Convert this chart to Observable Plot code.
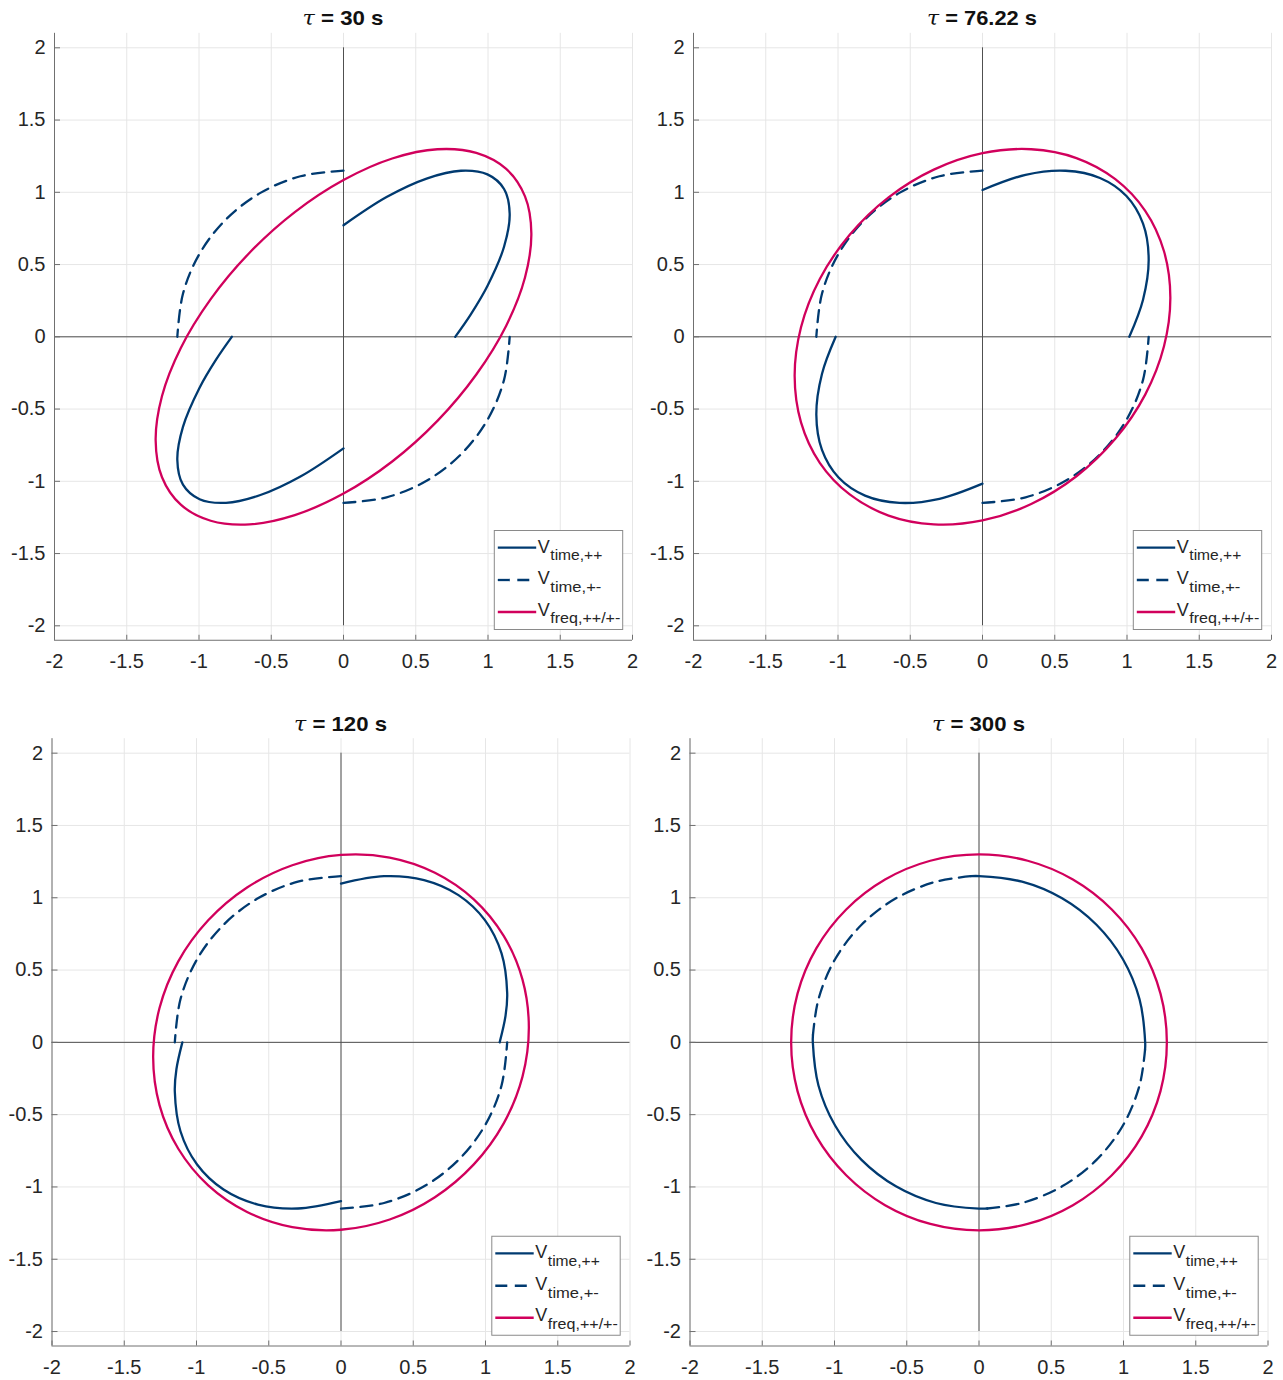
<!DOCTYPE html>
<html>
<head>
<meta charset="utf-8">
<script src="https://cdn.jsdelivr.net/npm/d3@7"></script>
<script src="https://cdn.jsdelivr.net/npm/@observablehq/plot@0.6"></script>
<style>
  body { margin: 0; background: #fff; }
  #wrap { position: relative; width: 1283px; height: 1380px; overflow: hidden; background: #fff; font-family: "Liberation Sans", Arial, sans-serif; }
  #wrap svg { position: absolute; }
</style>
</head>
<body>
<div id="wrap"></div>
<script>
// ---------- tick values & labels ----------
const xTicks = [-2, -1.5, -1, -0.5, 0, 0.5, 1, 1.5, 2];
const yTicks = [-2, -1.5, -1, -0.5, 0, 0.5, 1, 1.5, 2];
const tauValues = ["30", "76.22", "120", "300"];
const legendSubs = ["time,++", "time,+-", "freq,++/+-"];

// ---------- panel 1 : tau = 30 s ----------
const p1Freq = [[1.300,0.716],[1.256,0.972],[1.126,1.162],[0.919,1.273],[0.650,1.298],[0.337,1.234],[0,1.085],[-0.337,0.863],[-0.650,0.582],[-0.919,0.261],[-1.126,-0.077],[-1.256,-0.410],
                [-1.300,-0.716],[-1.256,-0.972],[-1.126,-1.162],[-0.919,-1.273],[-0.650,-1.298],[-0.337,-1.234],[0,-1.085],[0.337,-0.863],[0.650,-0.582],[0.919,-0.261],[1.126,0.077],[1.256,0.410]];
const p1TimePPa = [[0,0.772],[0.298,0.967],[0.575,1.095],[0.813,1.149],[0.996,1.124],[1.111,1.023],[1.150,0.852],[1.111,0.623],[0.996,0.352],[0.881,0.156],[0.773,0]];
const p1TimePPb = [[0,-0.772],[-0.298,-0.967],[-0.575,-1.095],[-0.813,-1.149],[-0.996,-1.124],[-1.111,-1.023],[-1.150,-0.852],[-1.111,-0.623],[-0.996,-0.352],[-0.881,-0.156],[-0.773,0]];
const p1TimePMa = [[0,1.150],[-0.298,1.111],[-0.575,0.996],[-0.813,0.813],[-0.996,0.575],[-1.111,0.298],[-1.150,0]];
const p1TimePMb = [[0,-1.150],[0.298,-1.111],[0.575,-0.996],[0.813,-0.813],[0.996,-0.575],[1.111,-0.298],[1.150,0]];

// ---------- panel 2 : tau = 76.22 s ----------
const p2Freq = [[1.300,0.272],[1.256,0.592],[1.126,0.872],[0.919,1.091],[0.650,1.237],[0.337,1.298],[0,1.271],[-0.337,1.157],[-0.650,0.965],[-0.919,0.706],[-1.126,0.400],[-1.256,0.066],
                [-1.300,-0.272],[-1.256,-0.592],[-1.126,-0.872],[-0.919,-1.091],[-0.650,-1.237],[-0.337,-1.298],[0,-1.271],[0.337,-1.157],[0.650,-0.965],[0.919,-0.706],[1.126,-0.400],[1.256,-0.066]];
const p2TimePPa = [[0,1.016],[0.298,1.121],[0.575,1.149],[0.813,1.099],[0.996,0.974],[1.111,0.783],[1.150,0.538],[1.111,0.257],[1.016,0]];
const p2TimePPb = [[0,-1.016],[-0.298,-1.121],[-0.575,-1.149],[-0.813,-1.099],[-0.996,-0.974],[-1.111,-0.783],[-1.150,-0.538],[-1.111,-0.257],[-1.016,0]];
const p2TimePMa = [[0,1.150],[-0.298,1.111],[-0.575,0.996],[-0.813,0.813],[-0.996,0.575],[-1.111,0.298],[-1.150,0]];
const p2TimePMb = [[0,-1.150],[0.298,-1.111],[0.575,-0.996],[0.813,-0.813],[0.996,-0.575],[1.111,-0.298],[1.150,0]];

// ---------- panel 3 : tau = 120 s ----------
const p3Freq = [[1.300,0.102],[1.256,0.434],[1.126,0.736],[0.919,0.989],[0.650,1.173],[0.337,1.278],[0,1.296],[-0.337,1.225],[-0.650,1.071],[-0.919,0.844],[-1.126,0.560],[-1.256,0.237],
                [-1.300,-0.102],[-1.256,-0.434],[-1.126,-0.736],[-0.919,-0.989],[-0.650,-1.173],[-0.337,-1.278],[0,-1.296],[0.337,-1.225],[0.650,-1.071],[0.919,-0.844],[1.126,-0.560],[1.256,-0.237]];
const p3TimePPa = [[0,1.098],[0.298,1.149],[0.575,1.122],[0.813,1.018],[0.996,0.845],[1.111,0.615],[1.150,0.342],[1.139,0.186],[1.098,0]];
const p3TimePPb = [[0,-1.098],[-0.298,-1.149],[-0.575,-1.122],[-0.813,-1.018],[-0.996,-0.845],[-1.111,-0.615],[-1.150,-0.342],[-1.139,-0.186],[-1.098,0]];
const p3TimePMa = [[0,1.150],[-0.298,1.111],[-0.575,0.996],[-0.813,0.813],[-0.996,0.575],[-1.111,0.298],[-1.150,0]];
const p3TimePMb = [[0,-1.150],[0.298,-1.111],[0.575,-0.996],[0.813,-0.813],[0.996,-0.575],[1.111,-0.298],[1.150,0]];

// ---------- panel 4 : tau = 300 s ----------
const p4Freq = [[1.300,0],[1.256,0.337],[1.126,0.650],[0.919,0.919],[0.650,1.126],[0.337,1.256],[0,1.300],[-0.337,1.256],[-0.650,1.126],[-0.919,0.919],[-1.126,0.650],[-1.256,0.337],
                [-1.300,0],[-1.256,-0.337],[-1.126,-0.650],[-0.919,-0.919],[-0.650,-1.126],[-0.337,-1.256],[0,-1.300],[0.337,-1.256],[0.650,-1.126],[0.919,-0.919],[1.126,-0.650],[1.256,-0.337]];
const p4TimePPa = [[-0.057,1.149],[0,1.150],[0.298,1.111],[0.575,0.996],[0.813,0.813],[0.996,0.575],[1.111,0.298],[1.150,0],[1.149,-0.052]];
const p4TimePPb = [[0.057,-1.149],[0,-1.150],[-0.298,-1.111],[-0.575,-0.996],[-0.813,-0.813],[-0.996,-0.575],[-1.111,-0.298],[-1.150,0],[-1.149,0.052]];
const p4TimePMa = [[-0.057,1.149],[-0.298,1.111],[-0.575,0.996],[-0.813,0.813],[-0.996,0.575],[-1.111,0.298],[-1.149,0.052]];
const p4TimePMb = [[0.057,-1.149],[0.298,-1.111],[0.575,-0.996],[0.813,-0.813],[0.996,-0.575],[1.111,-0.298],[1.149,-0.052]];

// ---------- styles ----------
const BLUE = "#003a70";
const RED = "#d1005c";
const DASH = "12,7.5";
const LW = 2.3;
const TICK_FONT = 20;

const W = 641, H = 690, PW = 578;
const panels = [
  {tau: tauValues[0], left: 0,   top: 0,   mL: 54,   mT: 32.85, mB: 50.25, freq: p1Freq, pp: [p1TimePPa, p1TimePPb], pm: [p1TimePMa, p1TimePMb], titleW: 81,  titleY: 25},
  {tau: tauValues[1], left: 639, top: 0,   mL: 54,   mT: 32.85, mB: 50.25, freq: p2Freq, pp: [p2TimePPa, p2TimePPb], pm: [p2TimePMa, p2TimePMb], titleW: 110, titleY: 25},
  {tau: tauValues[2], left: 0,   top: 690, mL: 51.5, mT: 48.2,  mB: 34.5,  freq: p3Freq, pp: [p3TimePPa, p3TimePPb], pm: [p3TimePMa, p3TimePMb], titleW: 93,  titleY: 730.5},
  {tau: tauValues[3], left: 636, top: 690, mL: 53.5, mT: 48.2,  mB: 34.5,  freq: p4Freq, pp: [p4TimePPa, p4TimePPb], pm: [p4TimePMa, p4TimePMb], titleW: 93,  titleY: 730.5}
];

const wrap = document.getElementById("wrap");
const fmt = d => String(d);

panels.forEach(p => {
  const chart = Plot.plot({
    width: W, height: H,
    marginLeft: p.mL, marginRight: W - p.mL - PW, marginTop: p.mT, marginBottom: p.mB,
    x: {domain: [-2, 2]},
    y: {domain: [-2.1, 2.1]},
    style: {background: "transparent", fontFamily: "Liberation Sans, Arial, sans-serif", fontSize: TICK_FONT + "px", color: "#262626", overflow: "visible"},
    marks: [
      Plot.gridX(xTicks, {stroke: "#e6e6e6", strokeOpacity: 1, strokeWidth: 1}),
      Plot.gridY(yTicks, {stroke: "#e6e6e6", strokeOpacity: 1, strokeWidth: 1}),
      Plot.ruleX([0], {y1: -2, y2: 2, stroke: "#505050", strokeWidth: 1}),
      Plot.ruleY([0], {x1: -2, x2: 2, stroke: "#505050", strokeWidth: 1}),
      Plot.ruleX([-2], {stroke: "#707070", strokeWidth: 1}),
      Plot.ruleY([-2.1], {stroke: "#707070", strokeWidth: 1}),
      Plot.axisX(xTicks, {tickSize: 5, dy: -5, fill: "none", stroke: "#707070", label: null}),
      Plot.axisY(yTicks, {tickSize: 6, dx: 6, fill: "none", stroke: "#707070", label: null}),
      Plot.axisX(xTicks, {tickSize: 0, tickPadding: 14, tickFormat: fmt, fill: "#262626", fontSize: TICK_FONT, label: null}),
      Plot.axisY(yTicks, {tickSize: 0, tickPadding: 9, tickFormat: fmt, fill: "#262626", fontSize: TICK_FONT, label: null}),
      Plot.line(p.pp[0], {stroke: BLUE, strokeWidth: LW, curve: "catmull-rom"}),
      Plot.line(p.pp[1], {stroke: BLUE, strokeWidth: LW, curve: "catmull-rom"}),
      Plot.line(p.pm[0], {stroke: BLUE, strokeWidth: LW, strokeDasharray: DASH, curve: "catmull-rom"}),
      Plot.line(p.pm[1], {stroke: BLUE, strokeWidth: LW, strokeDasharray: DASH, curve: "catmull-rom"}),
      Plot.line(p.freq, {stroke: RED, strokeWidth: LW, curve: "catmull-rom-closed"})
    ]
  });
  chart.style.left = p.left + "px";
  chart.style.top = p.top + "px";
  wrap.appendChild(chart);
});

// ---------- overlay: titles and legends ----------
const ov = d3.create("svg").attr("width", 1283).attr("height", 1380)
  .style("left", "0px").style("top", "0px").style("pointer-events", "none");
wrap.appendChild(ov.node());

const legendItems = [
  {sub: legendSubs[0], stroke: BLUE, dash: null, subW: 52},
  {sub: legendSubs[1], stroke: BLUE, dash: DASH, subW: 51},
  {sub: legendSubs[2], stroke: RED, dash: null, subW: 70}
];

panels.forEach(p => {
  const plotH = H - p.mT - p.mB;
  const frameL = p.left + p.mL, frameR = frameL + PW;
  const frameB = p.top + p.mT + plotH;
  // title
  const cx = frameL + PW / 2;
  const t = ov.append("text").attr("text-anchor", "middle")
    .attr("font-family", "Liberation Sans, Arial, sans-serif").attr("font-size", 20)
    .attr("font-weight", "bold").attr("fill", "#111");
  t.append("tspan").attr("font-family", "DejaVu Serif, serif").attr("font-style", "italic")
    .attr("font-weight", "normal").text("τ");
  t.append("tspan").text(" = " + p.tau + " s");
  const w = t.node().getComputedTextLength();
  t.attr("transform", `translate(${cx},${p.titleY}) scale(${p.titleW / w},1)`);

  // legend
  const bw = 128.4, bh = 99;
  const L = frameR - 9.8 - bw, T = frameB - 10.75 - bh;
  const g = ov.append("g").attr("transform", `translate(${L},${T})`);
  g.append("rect").attr("x", 0.5).attr("y", 0.5).attr("width", bw).attr("height", bh)
    .attr("fill", "#fff").attr("stroke", "#8a8a8a").attr("stroke-width", 1);
  const lineY = [17.7, 50.0, 82.0];
  const vY = [22.6, 54.2, 85.6];
  const sY = [30.3, 62.0, 93.4];
  legendItems.forEach((it, i) => {
    g.append("line").attr("x1", 4).attr("x2", 42.4).attr("y1", lineY[i]).attr("y2", lineY[i])
      .attr("stroke", it.stroke).attr("stroke-width", LW)
      .attr("stroke-dasharray", it.dash);
    g.append("text").attr("x", 44).attr("y", vY[i])
      .attr("font-family", "Liberation Sans, Arial, sans-serif").attr("font-size", 18)
      .attr("fill", "#262626").attr("textLength", 12).attr("lengthAdjust", "spacingAndGlyphs").text("V");
    g.append("text").attr("x", 56.5).attr("y", sY[i])
      .attr("font-family", "Liberation Sans, Arial, sans-serif").attr("font-size", 14.5)
      .attr("fill", "#262626").attr("textLength", it.subW).attr("lengthAdjust", "spacingAndGlyphs").text(it.sub);
  });
});
</script>
</body>
</html>
